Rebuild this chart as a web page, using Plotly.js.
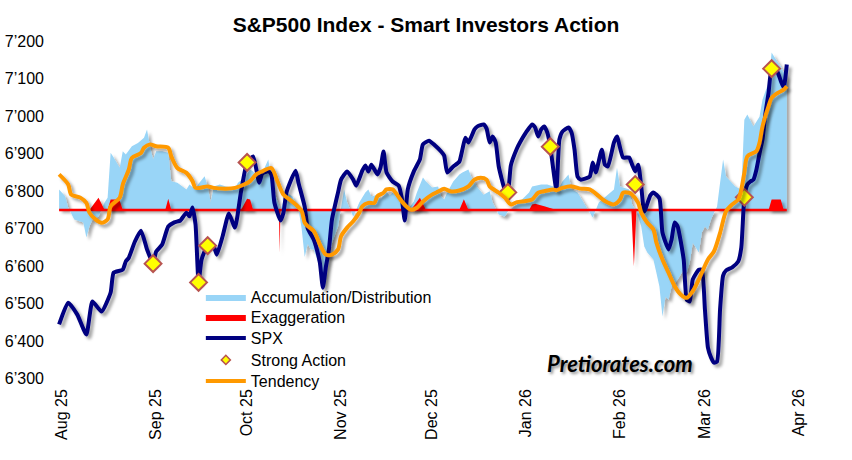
<!DOCTYPE html>
<html><head><meta charset="utf-8">
<script src="https://cdn.plot.ly/plotly-3.0.1.min.js"></script>
<style>html,body{margin:0;padding:0;background:#fff}#chart{width:852px;height:460px}</style>
</head><body>
<svg width="0" height="0" style="position:absolute">
 <defs><filter id="sh" filterUnits="userSpaceOnUse" x="-100" y="-100" width="1100" height="700">
 <feDropShadow dx="3" dy="3" stdDeviation="1.6" flood-color="#000" flood-opacity="0.35"/></filter></defs>
</svg>
<div id="chart"></div>
<script>
const BASELINE = 6750;

const spxDates = ['2025-07-31','2025-08-03','2025-08-06','2025-08-09','2025-08-11','2025-08-14','2025-08-17','2025-08-18','2025-08-21','2025-08-22','2025-08-23','2025-08-25','2025-08-27','2025-08-29','2025-08-31',
'2025-09-01','2025-09-03','2025-09-05','2025-09-07','2025-09-09','2025-09-11','2025-09-12','2025-09-13','2025-09-14','2025-09-15','2025-09-16','2025-09-18','2025-09-20','2025-09-21','2025-09-23','2025-09-25','2025-09-27','2025-09-29',
'2025-10-01','2025-10-03','2025-10-05','2025-10-06','2025-10-08','2025-10-09','2025-10-10','2025-10-12','2025-10-13','2025-10-14','2025-10-17','2025-10-18','2025-10-20','2025-10-21','2025-10-23','2025-10-24','2025-10-25','2025-10-26','2025-10-27','2025-10-28','2025-10-29','2025-10-31',
'2025-11-01','2025-11-03','2025-11-05','2025-11-06','2025-11-08','2025-11-09','2025-11-10','2025-11-11','2025-11-13','2025-11-14','2025-11-15','2025-11-16','2025-11-18','2025-11-20','2025-11-21','2025-11-22','2025-11-23','2025-11-25','2025-11-27','2025-11-28','2025-11-30',
'2025-12-02','2025-12-04','2025-12-05','2025-12-06','2025-12-08','2025-12-10','2025-12-11','2025-12-12','2025-12-13','2025-12-15','2025-12-16','2025-12-18','2025-12-19','2025-12-20','2025-12-21','2025-12-22','2025-12-23','2025-12-25','2025-12-26','2025-12-27','2025-12-29','2025-12-30',
'2026-01-01','2026-01-03','2026-01-04','2026-01-05','2026-01-06','2026-01-07','2026-01-08','2026-01-09','2026-01-11','2026-01-12','2026-01-13','2026-01-15','2026-01-16','2026-01-17','2026-01-18','2026-01-19','2026-01-22','2026-01-23','2026-01-24','2026-01-26','2026-01-27','2026-01-28','2026-01-30','2026-01-31',
'2026-02-02','2026-02-04','2026-02-05','2026-02-06','2026-02-07','2026-02-08','2026-02-09','2026-02-11','2026-02-12','2026-02-14','2026-02-15','2026-02-17','2026-02-18','2026-02-19','2026-02-20','2026-02-22','2026-02-23','2026-02-24','2026-02-25','2026-02-27','2026-02-28',
'2026-03-01','2026-03-02','2026-03-03','2026-03-04','2026-03-05','2026-03-06','2026-03-07','2026-03-08','2026-03-10','2026-03-12','2026-03-13','2026-03-14','2026-03-15','2026-03-16','2026-03-17','2026-03-18','2026-03-19','2026-03-20','2026-03-21','2026-03-22','2026-03-23','2026-03-24','2026-03-25','2026-03-26','2026-03-27','2026-03-28'];
const spxValues = [6445,6503,6471,6418,6506,6479,6530,6583,6591,6613,6623,6666,6695,6645,6607,
6639,6658,6706,6717,6722,6743,6733,6757,6711,6557,6618,6655,6653,6631,6682,6741,6703,6799,
6877,6893,6823,6847,6853,6845,6770,6722,6743,6797,6855,6821,6759,6701,6671,6645,6610,6543,6599,6645,6725,6797,
6831,6853,6831,6815,6855,6869,6853,6871,6845,6863,6906,6850,6826,6815,6783,6722,6805,6853,6885,6925,6935,
6922,6906,6895,6850,6866,6879,6911,6943,6930,6965,6973,6978,6967,6930,6946,6930,6866,6805,6797,6869,6914,6930,
6957,6978,6970,6946,6965,6973,6957,6919,6805,6938,6959,6970,6957,6911,6839,6831,6839,6877,6850,6911,6871,6866,6930,6946,
6890,6890,6871,6853,6871,6813,6746,6789,6797,6781,6690,6645,6671,6717,6706,6618,6511,6506,6565,6591,6591,
6485,6383,6357,6343,6346,6485,6575,6589,6597,6613,6650,6783,6818,6826,6831,6858,6900,6938,7010,7063,7127,7125,7117,7095,7077,7138];

const actionDates = ['2025-08-31','2025-09-15','2025-09-18','2025-10-01','2025-12-26','2026-01-09','2026-02-06','2026-03-14','2026-03-23'];
const actionValues = [6607,6557,6655,6877,6797,6919,6818,6784,7127];

const tendencyDates = ['2025-07-31','2025-08-03','2025-08-04','2025-08-07','2025-08-09','2025-08-10','2025-08-12','2025-08-14','2025-08-16','2025-08-17','2025-08-20','2025-08-21','2025-08-23','2025-08-24','2025-08-27','2025-08-28','2025-08-30',
'2025-09-01','2025-09-05','2025-09-06','2025-09-08','2025-09-11','2025-09-13','2025-09-14','2025-09-18','2025-09-20','2025-09-24','2025-09-27','2025-09-30',
'2025-10-02','2025-10-04','2025-10-06','2025-10-09','2025-10-11','2025-10-13','2025-10-15','2025-10-17','2025-10-19','2025-10-20','2025-10-21','2025-10-23','2025-10-25','2025-10-27','2025-10-29','2025-10-31',
'2025-11-01','2025-11-03','2025-11-05','2025-11-07','2025-11-08','2025-11-10','2025-11-12','2025-11-13','2025-11-15','2025-11-16','2025-11-18','2025-11-19','2025-11-21','2025-11-23','2025-11-24','2025-11-26','2025-11-28',
'2025-12-01','2025-12-03','2025-12-05','2025-12-07','2025-12-10','2025-12-13','2025-12-15','2025-12-17','2025-12-19','2025-12-20','2025-12-23','2025-12-25','2025-12-27','2025-12-29',
'2026-01-01','2026-01-03','2026-01-05','2026-01-07','2026-01-10','2026-01-11','2026-01-13','2026-01-16','2026-01-19','2026-01-22','2026-01-25','2026-01-27','2026-01-30',
'2026-02-01','2026-02-02','2026-02-04','2026-02-05','2026-02-07','2026-02-08','2026-02-10','2026-02-12','2026-02-13','2026-02-15','2026-02-17','2026-02-19','2026-02-21','2026-02-23','2026-02-25','2026-02-27',
'2026-03-02','2026-03-04','2026-03-06','2026-03-08','2026-03-10','2026-03-12','2026-03-13','2026-03-14','2026-03-15','2026-03-18','2026-03-19','2026-03-20','2026-03-22','2026-03-23','2026-03-25','2026-03-27','2026-03-28'];
const tendencyValues = [6845,6818,6791,6783,6769,6743,6725,6716,6725,6760,6783,6818,6858,6889,6902,6916,6925,
6920,6916,6893,6862,6849,6827,6809,6813,6809,6807,6809,6818,
6827,6845,6853,6862,6827,6791,6778,6765,6747,6716,6707,6694,6658,6631,6631,6645,
6680,6703,6720,6743,6760,6769,6769,6787,6796,6805,6805,6796,6773,6756,6751,6756,6773,
6791,6799,6807,6800,6802,6813,6831,6836,6831,6813,6796,6783,6765,6771,
6774,6778,6796,6800,6805,6803,6809,6813,6807,6805,6787,6774,6765,
6778,6796,6796,6791,6769,6743,6716,6698,6663,6618,6583,6547,6525,6516,6534,6565,
6618,6640,6689,6747,6765,6778,6805,6849,6893,6907,6929,6973,7027,7049,7062,7071,7080];

const adDates = ['2025-07-31','2025-08-02','2025-08-03','2025-08-05','2025-08-08','2025-08-09','2025-08-10','2025-08-11','2025-08-13','2025-08-15','2025-08-16','2025-08-17','2025-08-18','2025-08-19','2025-08-20','2025-08-21','2025-08-22','2025-08-24','2025-08-26','2025-08-28','2025-08-29','2025-08-30','2025-08-31',
'2025-09-01','2025-09-03','2025-09-05','2025-09-06','2025-09-08','2025-09-11','2025-09-12','2025-09-14','2025-09-15','2025-09-17','2025-09-18','2025-09-19','2025-09-20','2025-09-22','2025-09-24','2025-09-27','2025-09-28','2025-09-30',
'2025-10-02','2025-10-03','2025-10-05','2025-10-08','2025-10-09','2025-10-10','2025-10-12','2025-10-14','2025-10-16','2025-10-18','2025-10-19','2025-10-20','2025-10-21','2025-10-22','2025-10-23','2025-10-25','2025-10-26','2025-10-27','2025-10-28','2025-10-29','2025-10-31',
'2025-11-01','2025-11-02','2025-11-03','2025-11-05','2025-11-06','2025-11-07','2025-11-09','2025-11-10','2025-11-11','2025-11-13','2025-11-14','2025-11-16','2025-11-17','2025-11-18','2025-11-20','2025-11-21','2025-11-23','2025-11-25','2025-11-26','2025-11-28','2025-11-29',
'2025-12-01','2025-12-03','2025-12-04','2025-12-05','2025-12-06','2025-12-08','2025-12-10','2025-12-11','2025-12-13','2025-12-14','2025-12-16','2025-12-18','2025-12-20','2025-12-21','2025-12-23','2025-12-25','2025-12-26','2025-12-28','2025-12-30',
'2026-01-02','2026-01-03','2026-01-06','2026-01-08','2026-01-10','2026-01-11','2026-01-12','2026-01-13','2026-01-15','2026-01-16','2026-01-18','2026-01-21','2026-01-22','2026-01-23','2026-01-25','2026-01-27','2026-01-30','2026-01-31',
'2026-02-01','2026-02-04','2026-02-05','2026-02-06','2026-02-07','2026-02-08','2026-02-09','2026-02-10','2026-02-12','2026-02-13','2026-02-14','2026-02-15','2026-02-16','2026-02-17','2026-02-18','2026-02-20','2026-02-22','2026-02-23','2026-02-24','2026-02-25','2026-02-27','2026-02-28',
'2026-03-01','2026-03-02','2026-03-03','2026-03-04','2026-03-05','2026-03-06','2026-03-07','2026-03-08','2026-03-09','2026-03-11','2026-03-13','2026-03-14','2026-03-15','2026-03-17','2026-03-19','2026-03-20','2026-03-22','2026-03-23','2026-03-24','2026-03-26','2026-03-27','2026-03-28'];
const adValues = [6805,6787,6757,6725,6717,6677,6707,6725,6733,6770,6783,6903,6890,6877,6863,6907,6898,6920,6929,6943,6965,6919,6885,
6907,6907,6903,6827,6823,6805,6818,6805,6820,6840,6813,6770,6813,6818,6813,6809,6823,6836,
6858,6853,6831,6885,6831,6799,6751,6797,6786,6751,6700,6625,6660,6645,6645,6599,6538,6591,6626,6663,6706,
6751,6805,6770,6733,6751,6770,6797,6805,6786,6791,6778,6799,6789,6797,6786,6759,6751,6773,6797,6837,6826,
6810,6813,6786,6778,6797,6826,6845,6850,6858,6837,6810,6791,6800,6770,6738,6733,6746,6759,6773,
6797,6813,6818,6818,6813,6797,6810,6826,6845,6805,6797,6759,6743,6730,6770,6783,6805,6863,
6813,6805,6765,6751,6733,6706,6653,6637,6618,6583,6546,6466,6519,6511,6546,6565,6591,6583,6610,6663,6637,6690,
6706,6698,6725,6743,6759,6823,6885,6839,6831,6813,6805,6991,7005,6973,6999,7045,7090,7170,7157,7133,7117,7106];

const exDates = ['2025-07-31','2025-08-10','2025-08-13','2025-08-15','2025-08-16','2025-08-17','2025-08-19','2025-08-20','2025-08-21',
'2025-09-04','2025-09-05','2025-09-06','2025-09-29','2025-10-01','2025-10-02','2025-10-03',
'2025-10-11 12:00','2025-10-11 18:00','2025-10-12 00:00','2025-11-24','2025-11-27','2025-11-29',
'2025-12-10','2025-12-11 12:00','2025-12-13','2026-01-02','2026-01-03','2026-01-04','2026-01-07','2026-01-10','2026-01-11',
'2026-02-04 18:00','2026-02-05 14:00','2026-02-06 10:00','2026-03-22','2026-03-23','2026-03-26','2026-03-27','2026-03-28'];
const exValues = [6750,6750,6783,6750,6750,6778,6778,6775,6750,
6750,6780,6750,6750,6780,6778,6750,
6750,6636,6750,6750,6783,6750,
6750,6779,6750,6750,6765,6767,6760,6752,6750,
6750,6600,6750,6750,6778,6778,6750,6750];

const FONT = 'Liberation Sans, Arial, sans-serif';

const traces = [
  {x: adDates, y: adDates.map(() => BASELINE), mode:'lines', line:{width:0, color:'rgba(0,0,0,0)'}, showlegend:false, hoverinfo:'skip'},
  {x: adDates, y: adValues, name:'Accumulation/Distribution', legend:'legend', mode:'lines', fill:'tonexty', fillcolor:'#99D5F7', line:{width:0, color:'#99D5F7'}},
  {x: exDates, y: exDates.map(() => BASELINE), mode:'lines', line:{width:2.5, color:'#FF0000'}, showlegend:false, hoverinfo:'skip'},
  {x: exDates, y: exValues, name:'Exaggeration', legend:'legend2', mode:'lines', fill:'tonexty', fillcolor:'#FF0000', line:{width:0, color:'#FF0000'}},
  {x: spxDates, y: spxValues, name:'SPX', legend:'legend3', mode:'lines', line:{color:'#000080', width:4, shape:'spline', smoothing:0.5}},
  {x: actionDates, y: actionValues, name:'Strong Action', mode:'markers', marker:{symbol:'diamond', size:13, color:'#FFFF00', line:{color:'#B85450', width:2}}, showlegend:false},
  {x: [null], y: [null], name:'Strong Action', legend:'legend4', mode:'markers', marker:{symbol:'diamond', size:7, color:'#FFFF00', line:{color:'#B85450', width:1.5}}},
  {x: tendencyDates, y: tendencyValues, name:'Tendency', legend:'legend5', mode:'lines', line:{color:'#FF9900', width:4, shape:'spline', smoothing:0.8}}
];

function legendAt(yPaper){
  return {x:0.199, y:yPaper, xanchor:'left', yanchor:'top', bgcolor:'rgba(0,0,0,0)', font:{size:16, color:'#000'},
          itemwidth:40, traceorder:'normal'};
}

const layout = {
  width:852, height:460,
  margin:{l:50, r:44, t:30, b:70},
  paper_bgcolor:'#ffffff', plot_bgcolor:'#ffffff',
  separators:'.\u2019',
  font:{family:FONT, size:16, color:'#000000'},
  title:{text:'S&amp;P500 Index - Smart Investors Action', font:{family:FONT, size:21, weight:'bold', color:'#000000'},
         x:0.5, xanchor:'center', y:1 - 25/460, yanchor:'middle', yref:'container'},
  xaxis:{type:'date', range:['2025-07-28','2026-04-04'], tickformat:'%b %y', dtick:'M1', tick0:'2025-08-01',
         tickangle:-90, showgrid:false, zeroline:false, showline:false, ticks:'', tickfont:{size:16, color:'#000'},
         ticklabelstandoff:-5},
  yaxis:{range:[6270,7230], dtick:100, tick0:6300, tickformat:',d', showgrid:false, zeroline:false, showline:false,
         ticks:'', tickfont:{size:16, color:'#000'}, ticklabelstandoff:5},
  showlegend:true,
  legend:legendAt(0.3056),
  legend2:legendAt(0.2500),
  legend3:legendAt(0.1917),
  legend4:legendAt(0.1306),
  legend5:legendAt(0.0722),
  annotations:[{text:'Pretiorates.com', xref:'paper', yref:'paper', x:0.752, y:0.075, xanchor:'center', yanchor:'middle',
    showarrow:false, font:{family:'Lato, Open Sans, sans-serif', size:22, weight:700, style:'italic', color:'#000',
    shadow:'2px 2px 3px rgba(0,0,0,0.45)'}}],
  hovermode:false
};

Plotly.newPlot('chart', traces, layout, {staticPlot:true, displayModeBar:false}).then(function(gd){
  gd.querySelectorAll('.scatterlayer .js-fill').forEach(function(p){ p.setAttribute('filter','url(#sh)'); });
  var tr = gd.querySelectorAll('.scatterlayer .trace');
  [4,7].forEach(function(i){ if(tr[i]){ var l = tr[i].querySelector('.js-line'); if(l) l.setAttribute('filter','url(#sh)'); } });
});
</script>
</body></html>
